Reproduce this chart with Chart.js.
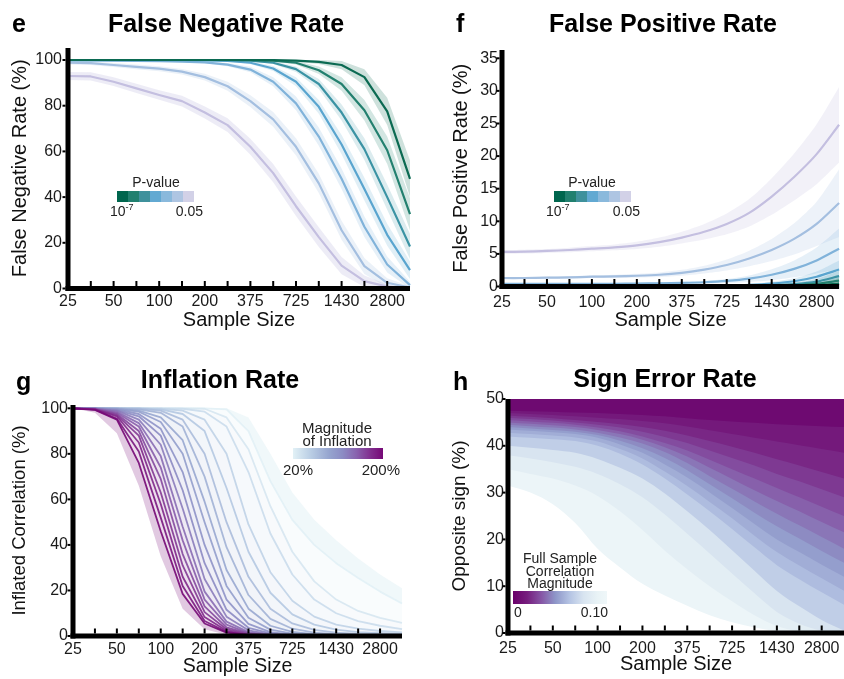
<!DOCTYPE html>
<html><head><meta charset="utf-8">
<title>Error rates vs sample size</title>
<script src="https://cdn.jsdelivr.net/npm/chart.js@4.4.1/dist/chart.umd.min.js"></script>
<style>
html,body{margin:0;padding:0;background:#fff;}
body{width:844px;height:679px;overflow:hidden;position:relative;font-family:"Liberation Sans",Arial,Helvetica,sans-serif;}
canvas{position:absolute;}
.t{position:absolute;font-weight:bold;font-size:25px;line-height:25px;white-space:nowrap;color:#000;}
.ct{width:400px;text-align:center;}
.lg{position:absolute;font-size:14px;line-height:14px;white-space:nowrap;color:#222;}
.l15{font-size:15px;line-height:15px;}
.sw{position:absolute;width:11px;height:11px;}
.bar{position:absolute;}
sup{font-size:9px;line-height:0;vertical-align:6px;}
</style></head>
<body>
<canvas id="cE" width="422" height="320" style="left:0;top:20px"></canvas>
<canvas id="cF" width="424" height="320" style="left:422px;top:20px"></canvas>
<canvas id="cG" width="422" height="294" style="left:0;top:385px"></canvas>
<canvas id="cH" width="428" height="294" style="left:422px;top:385px"></canvas>

<div class="t" style="left:12px;top:11px">e</div>
<div class="t ct" style="left:26px;top:11px">False Negative Rate</div>
<div class="t" style="left:456px;top:11px">f</div>
<div class="t ct" style="left:463px;top:11px">False Positive Rate</div>
<div class="t" style="left:16px;top:369px">g</div>
<div class="t ct" style="left:20px;top:367px">Inflation Rate</div>
<div class="t" style="left:453px;top:369px">h</div>
<div class="t ct" style="left:465px;top:366px">Sign Error Rate</div>

<div class="lg" style="left:106px;top:175px;width:100px;text-align:center">P-value</div>
<div class="lg" style="left:110px;top:204px">10<sup>-7</sup></div>
<div class="lg" style="left:163px;top:204px;width:40px;text-align:right">0.05</div>
<div id="swE"></div>

<div class="lg" style="left:542px;top:175px;width:100px;text-align:center">P-value</div>
<div class="lg" style="left:546px;top:204px">10<sup>-7</sup></div>
<div class="lg" style="left:600px;top:204px;width:40px;text-align:right">0.05</div>
<div id="swF"></div>

<div class="lg l15" style="left:287px;top:420px;width:100px;text-align:center">Magnitude</div>
<div class="lg l15" style="left:287px;top:433px;width:100px;text-align:center">of Inflation</div>
<div id="barG" class="bar" style="left:293px;top:448px;width:90px;height:11px"></div>
<div class="lg l15" style="left:283px;top:462px">20%</div>
<div class="lg l15" style="left:340px;top:462px;width:60px;text-align:right">200%</div>

<div class="lg" style="left:510px;top:551px;width:100px;text-align:center">Full Sample</div>
<div class="lg" style="left:510px;top:564px;width:100px;text-align:center">Correlation</div>
<div class="lg" style="left:510px;top:576px;width:100px;text-align:center">Magnitude</div>
<div id="barH" class="bar" style="left:513px;top:591px;width:94px;height:13px"></div>
<div class="lg" style="left:514px;top:605px">0</div>
<div class="lg" style="left:558px;top:605px;width:50px;text-align:right">0.10</div>

<script>
// ---------------- DATA ----------------
const sampleSizes = ['25','35','50','70','100','135','200','265','375','525','725','1000','1430','2000','2800','3600'];
const shownSizes = ['25','50','100','200','375','725','1430','2800'];
const pValues = ['1e-7','1e-6','1e-5','1e-4','0.001','0.01','0.05'];

// e: false negative rate (%)
const fnr_p1e7 = [100,100,100,100,100,100,100,100,100,99.9,99.7,99.2,97.8,92.5,77.5,48];
const fnr_p1e6 = [100,100,100,100,100,100,100,100,99.9,99.7,98.8,95.5,89.5,78,60.5,32.5];
const fnr_p1e5 = [100,100,100,100,100,100,100,99.9,99.7,98.8,96,89.5,77,61,40,18.4];
const fnr_p1e4 = [99.9,99.9,99.9,99.9,99.9,99.9,99.8,99.6,98.8,96.3,90.5,79.5,63,43.5,23.5,8];
const fnr_p1e3 = [99.8,99.8,99.7,99.6,99.5,99.3,99,98,95.8,90.5,81,66.5,48,27,10.5,1.5];
const fnr_p01  = [98.8,98.6,97.8,97,96.2,94.9,92.5,88.5,82,74,62,46,25.5,9.8,2.5,0.4];
const fnr_p05  = [93,92.8,90.5,87.6,84.7,82,77,71.5,62,50.5,36,22.5,10,3.2,0.8,0.1];
const fnrCi_p1e7 = [0.2,0.2,0.2,0.2,0.2,0.2,0.2,0.2,0.2,0.3,0.5,0.9,1.8,3.5,6,8];
const fnrCi_p1e6 = [0.2,0.2,0.2,0.2,0.2,0.2,0.2,0.2,0.2,0.4,0.8,1.6,3,4.5,6,7];
const fnrCi_p1e5 = [0.2,0.2,0.2,0.2,0.2,0.2,0.2,0.2,0.3,0.6,1.2,2.2,3.5,4.8,5.5,5.5];
const fnrCi_p1e4 = [0.2,0.2,0.2,0.2,0.2,0.2,0.2,0.3,0.6,1.1,2,3,4.2,5,4.8,3.8];
const fnrCi_p1e3 = [0.3,0.3,0.3,0.3,0.3,0.3,0.4,0.7,1.2,2,3,4,4.5,4.5,3.5,1.5];
const fnrCi_p01  = [0.8,0.8,0.9,1,1.1,1.2,1.5,2,2.6,3.2,3.8,4.2,4.2,3.5,2,0.6];
const fnrCi_p05  = [1.8,1.8,1.9,2,2.1,2.3,2.6,3,3.5,4,4.3,4.3,3.8,2.5,1,0.3];

// f: false positive rate (%)
const fpr_p1e7 = [0,0,0,0,0,0,0,0,0,0,0.01,0.02,0.05,0.1,0.2,0.45];
const fpr_p1e6 = [0,0,0,0,0,0,0,0,0,0.01,0.02,0.04,0.09,0.2,0.4,0.9];
const fpr_p1e5 = [0,0,0,0,0,0,0,0,0.01,0.02,0.04,0.08,0.17,0.35,0.75,1.6];
const fpr_p1e4 = [0.05,0.05,0.05,0.05,0.05,0.05,0.06,0.07,0.08,0.1,0.15,0.25,0.45,0.8,1.5,2.6];
const fpr_p1e3 = [0.4,0.4,0.4,0.4,0.4,0.42,0.45,0.5,0.55,0.65,0.85,1.2,1.8,2.7,4,5.8];
const fpr_p01  = [1.3,1.3,1.35,1.4,1.5,1.55,1.65,1.8,2.1,2.6,3.3,4.3,5.6,7.3,9.6,12.8];
const fpr_p05  = [5.3,5.35,5.45,5.6,5.8,6,6.3,6.8,7.5,8.4,9.6,11.3,13.8,16.8,20.3,24.8];
const fprCi_p1e7 = [0,0,0,0,0,0,0,0,0,0,0.01,0.01,0.03,0.05,0.1,0.25];
const fprCi_p1e6 = [0,0,0,0,0,0,0,0,0,0.01,0.01,0.02,0.05,0.1,0.2,0.45];
const fprCi_p1e5 = [0,0,0,0,0,0,0,0,0.01,0.01,0.02,0.05,0.1,0.2,0.4,0.8];
const fprCi_p1e4 = [0.02,0.02,0.02,0.02,0.02,0.02,0.02,0.03,0.04,0.05,0.08,0.14,0.25,0.45,0.8,1.4];
const fprCi_p1e3 = [0.08,0.08,0.08,0.08,0.08,0.09,0.1,0.12,0.15,0.2,0.3,0.5,0.85,1.3,2,3.1];
const fprCi_p01  = [0.15,0.15,0.15,0.2,0.2,0.25,0.3,0.35,0.45,0.6,0.85,1.2,1.7,2.4,3.4,5.2];
const fprCi_p05  = [0.3,0.3,0.3,0.35,0.4,0.45,0.55,0.7,0.9,1.2,1.6,2.1,2.8,3.6,4.6,5.8];

// g: inflated correlation (%) by magnitude of inflation
const inflLabels = ['200%','190%','180%','170%','160%','150%','140%','130%','120%','110%','100%','90%','80%','70%','60%','50%','40%','30%','20%'];
const infl200 = [100,99.3,95,76,46,18.5,5.5,1.5,0.4,0.1,0,0,0,0,0,0];
const infl190 = [100,99.4,95.5,81,52,22,6.6,1.8,0.4,0.1,0,0,0,0,0,0];
const infl180 = [100,99.5,96.5,85,58,26,8.3,2.3,0.5,0.1,0,0,0,0,0,0];
const infl170 = [100,99.5,97,88,63,31,10.5,3,0.7,0.2,0,0,0,0,0,0];
const infl160 = [100,99.6,97.5,90,69,36,13,3.8,1,0.2,0,0,0,0,0,0];
const infl150 = [100,99.7,98,92,74,42,16,5,1.3,0.3,0.1,0,0,0,0,0];
const infl140 = [100,99.8,98.5,93.5,79,48,19.5,6.3,1.7,0.5,0.1,0,0,0,0,0];
const infl130 = [100,99.8,99,95,84,56,25,8.5,2.5,0.7,0.2,0.1,0,0,0,0];
const infl120 = [100,99.9,99.2,96.5,88,64,32,11.5,3.6,1.1,0.3,0.1,0,0,0,0];
const infl110 = [100,100,99.5,97.5,91,72,40,16,5.3,1.7,0.6,0.2,0.1,0,0,0];
const infl100 = [100,100,99.7,98.5,94,80,50,22,8,2.8,1,0.4,0.2,0.1,0.1,0.1];
const infl90  = [100,100,99.8,99,96,86,59,29,12,4.5,1.8,0.8,0.4,0.3,0.2,0.2];
const infl80  = [100,100,100,99.5,98,92,70,39,18,7.5,3.2,1.5,0.8,0.5,0.4,0.3];
const infl70  = [100,100,100,99.8,99,95,80,50,26,12,5.5,2.7,1.5,0.9,0.7,0.5];
const infl60  = [100,100,100,100,99.5,97.5,90,65,37,19,9.5,5,2.8,1.7,1.2,0.9];
const infl50  = [100,100,100,100,99.8,99,95,80,49,28,15.5,8.5,5,3.2,2.2,1.6];
const infl40  = [100,100,100,100,100,99.8,98.5,92,72,45,27,16,10,6.5,4.5,3];
const infl30  = [100,100,100,100,100,100,99.8,96,82,57,37,24,16,11,8,5.8];
const infl20  = [100,100,100,100,100,100,100,99.5,90,68,51,40,32,25.5,19.5,14.3];
const inflBand200Lo = [100,98,89,66,35,12,3,0.6,0.1,0,0,0,0,0,0,0];
const inflBand20Hi  = [100,100,100,100,100,100,100,100,96,80,63,51,42,34,27,21];

// h: sign error rate (%) contour for each full-sample correlation magnitude
const rLevels = [0,0.01,0.015,0.02,0.025,0.03,0.035,0.04,0.045,0.05,0.055,0.06,0.07,0.08,0.09,0.10];
const sign_r000  = [50,50,50,50,50,50,50,50,50,50,50,50,50,50,50,50];
const sign_r010  = [47.5,47.4,47.3,47.1,47,46.8,46.6,46.3,45.9,45.5,45.2,44.9,44.6,44.4,44.2,44];
const sign_r015  = [47,46.8,46.6,46.3,46,45.7,45.3,44.8,44.1,43.3,42.5,41.7,40.9,40.1,39.3,38.5];
const sign_r020  = [46.5,46.2,45.9,45.5,45.1,44.6,44,43.2,42.2,41,39.8,38.5,37.1,35.8,34.4,33];
const sign_r025  = [46,45.7,45.4,45,44.5,43.9,43,41.9,40.6,39,37.4,35.8,34,32.4,30.7,29];
const sign_r030  = [45.5,45.2,44.9,44.5,43.9,43.1,42,40.6,39,37,35,33,31,29,27,25];
const sign_r035  = [45,44.7,44.4,44,43.4,42.5,41.3,39.7,37.7,35.3,32.9,30.5,28.2,26,23.7,21.5];
const sign_r040  = [44.5,44.2,43.9,43.5,42.8,41.8,40.5,38.7,36.3,33.5,30.8,28.1,25.5,23,20.5,18];
const sign_r045  = [44,43.7,43.4,43,42.3,41.1,39.5,37.4,34.8,31.8,28.8,25.7,22.8,20.2,17.5,15];
const sign_r050  = [43.5,43.2,42.9,42.5,41.7,40.3,38.5,36,33.2,30,26.7,23.3,20,17.3,14.6,12];
const sign_r055  = [42.8,42.5,42.2,41.8,40.9,39.3,37.3,34.5,31.4,28,24.5,20.8,17.3,14.4,11.7,9];
const sign_r060  = [42,41.7,41.4,41,40,38.3,36,33,29.6,26,22.2,18.3,14.5,11.5,8.7,6];
const sign_r070  = [40,39.6,39.1,38.5,37.2,35.3,33,29.8,26,22,17.7,13.3,9,5.7,2.8,0.5];
const sign_r080  = [38,37.3,36.5,35.5,34,31.8,29,25.3,21.2,17,12.7,8.5,4.5,2,0.5,0];
const sign_r090  = [35,34,33,31.5,29.3,26,22,17.6,13.6,10,6.8,3.8,1.5,0.4,0,0];
const sign_r100  = [31.5,30,27.5,23.5,18,14,10.5,8,5.8,3.8,2.3,1.2,0.4,0,0,0];

const yTicksE = [0,20,40,60,80,100];
const yTicksF = [0,5,10,15,20,25,30,35];
const yTicksG = [0,20,40,60,80,100];
const yTicksH = [0,10,20,30,40,50];

// ---------------- STYLE ----------------
const pLineColors   = ['#0b6a52','#23806f','#3b93a4','#5aa5cf','#81b3da','#a4bfe0','#c4bfe0'];
const pSwatchColors = ['#00664e','#21806f','#3f919c','#62a9d2','#8ab9dc','#aec5e2','#d2d1e7'];
const gStops = [[0,[226,241,246]],[0.2,[185,205,228]],[0.4,[150,165,207]],[0.55,[140,140,196]],[0.7,[137,100,175]],[0.85,[130,50,145]],[1,[118,8,118]]];
const hStops = [[0,[106,0,106]],[0.15,[118,30,126]],[0.3,[134,85,165]],[0.45,[142,150,200]],[0.6,[180,195,227]],[0.75,[216,228,240]],[0.9,[233,243,246]],[1,[239,247,249]]];

function cmap(stops, t) {
  t = Math.max(0, Math.min(1, t));
  for (let i = 1; i < stops.length; i++) {
    if (t <= stops[i][0]) {
      const [t0, c0] = stops[i-1], [t1, c1] = stops[i];
      const f = (t - t0) / (t1 - t0);
      return c0.map((v, k) => Math.round(v + (c1[k] - v) * f));
    }
  }
  return stops[stops.length-1][1];
}
const rgba = (c, a) => `rgba(${c[0]},${c[1]},${c[2]},${a})`;
const hex2rgb = h => [parseInt(h.slice(1,3),16), parseInt(h.slice(3,5),16), parseInt(h.slice(5,7),16)];

// legends
function swatches(id, x0, y0) {
  const el = document.getElementById(id);
  pSwatchColors.forEach((c, i) => {
    const d = document.createElement('div');
    d.className = 'sw';
    d.style.left = (x0 + 11 * i) + 'px';
    d.style.top = y0 + 'px';
    d.style.background = c;
    el.appendChild(d);
  });
}
swatches('swE', 117, 191);
swatches('swF', 554, 191);
function grad(stops) {
  const parts = stops.map(s => `rgb(${s[1].join(',')}) ${s[0] * 100}%`);
  return `linear-gradient(to right, ${parts.join(', ')})`;
}
document.getElementById('barG').style.background = grad(gStops);
document.getElementById('barH').style.background = grad(hStops);

// ---------------- CHARTS ----------------
Chart.defaults.font.family = '"Liberation Sans", Arial, Helvetica, sans-serif';
Chart.defaults.color = '#1a1a1a';

const axisDecor = {
  id: 'axisDecor',
  afterDatasetsDraw(chart) {
    const {ctx, chartArea: a} = chart;
    const xs = chart.scales.x, ys = chart.scales.y;
    const w = 5;
    ctx.save();
    ctx.fillStyle = '#000';
    ctx.fillRect(a.left - w / 2, a.top, w, a.bottom - a.top + w / 2);
    ctx.fillRect(a.left - w / 2, a.bottom - w / 2, a.right - a.left + w / 2, w);
    for (let i = 1; i < xs.ticks.length - 1; i++) {
      const px = xs.getPixelForTick(i);
      ctx.fillRect(px - 1, a.bottom - w / 2 - 5, 2, 5);
    }
    ys.ticks.forEach((t, i) => {
      const py = ys.getPixelForTick(i);
      ctx.fillRect(a.left - w / 2 - 3, py - 1, 3, 2);
    });
    ctx.restore();
  }
};

function makeOptions(c) {
  return {
    responsive: false, animation: false, devicePixelRatio: 1, events: [],
    layout: {padding: c.padding},
    elements: {point: {radius: 0}, line: {tension: c.tension || 0, borderJoinStyle: 'round'}},
    plugins: {legend: {display: false}, tooltip: {enabled: false},
              filler: {drawTime: 'beforeDatasetsDraw', propagate: false}},
    scales: {
      x: {type: 'category', offset: false,
          grid: {display: false, drawTicks: false}, border: {display: false},
          ticks: {autoSkip: false, maxRotation: 0, minRotation: 0, padding: c.xTickPad,
                  font: {size: 16}, color: '#1a1a1a',
                  callback: (v, i) => (i % 2 === 0 ? shownSizes[i / 2] : '')},
          title: {display: true, text: 'Sample Size', font: {size: c.xTitleSize || 20}, color: '#111',
                  padding: {top: 0, bottom: c.xTitlePad}},
          afterFit: s => { s.height = c.xHeight; }},
      y: {type: 'linear', min: 0, max: c.yMax,
          grid: {display: false, drawTicks: false}, border: {display: false},
          afterBuildTicks: s => { s.ticks = c.yTicks.map(v => ({value: v})); },
          ticks: {padding: c.yTickPad, font: {size: 16}, color: '#1a1a1a'},
          title: {display: true, text: c.yTitle, font: {size: c.yTitleSize || 20}, color: '#111',
                  padding: {top: c.yTitlePad, bottom: 0}},
          afterFit: s => { s.width = c.yWidth; }}
    }
  };
}

function pDatasets(series, cis, maxV, bandAlpha) {
  const ds = [];
  series.forEach((s, k) => ds.push({label: 'p<' + pValues[k], data: s, borderColor: pLineColors[k],
    borderWidth: 2.2, fill: false, order: k}));
  series.forEach((s, k) => {
    const lo = s.map((v, i) => Math.max(0, v - cis[k][i]));
    const hi = s.map((v, i) => Math.min(maxV, v + cis[k][i]));
    const loIdx = ds.length;
    ds.push({label: 'lo ' + pValues[k], data: lo, borderWidth: 0, fill: false, order: 20 + k});
    ds.push({label: 'hi ' + pValues[k], data: hi, borderWidth: 0, fill: loIdx,
             backgroundColor: rgba(hex2rgb(pLineColors[k]), bandAlpha[k]), order: 20 + k});
  });
  return ds;
}

// e
new Chart(document.getElementById('cE'), {
  type: 'line',
  data: {labels: sampleSizes,
         datasets: pDatasets([fnr_p1e7, fnr_p1e6, fnr_p1e5, fnr_p1e4, fnr_p1e3, fnr_p01, fnr_p05],
                             [fnrCi_p1e7, fnrCi_p1e6, fnrCi_p1e5, fnrCi_p1e4, fnrCi_p1e3, fnrCi_p01, fnrCi_p05],
                             100, [0.2,0.2,0.18,0.18,0.2,0.22,0.3])},
  options: makeOptions({padding: {top: 28, right: 12, left: 0, bottom: 0}, yMax: 105.25, yTicks: yTicksE,
    yTitle: 'False Negative Rate (%)', yTitlePad: 8, yTickPad: 6, yWidth: 68, xHeight: 51.5,
    xTickPad: 3.4, xTitlePad: 7.3}),
  plugins: [axisDecor]
});

// f
new Chart(document.getElementById('cF'), {
  type: 'line',
  data: {labels: sampleSizes,
         datasets: pDatasets([fpr_p1e7, fpr_p1e6, fpr_p1e5, fpr_p1e4, fpr_p1e3, fpr_p01, fpr_p05],
                             [fprCi_p1e7, fprCi_p1e6, fprCi_p1e5, fprCi_p1e4, fprCi_p1e3, fprCi_p01, fprCi_p05],
                             100, [0.25,0.25,0.22,0.2,0.2,0.2,0.22])},
  options: makeOptions({padding: {top: 30, right: 1, left: 0, bottom: 0}, yMax: 36.27, yTicks: yTicksF,
    yTitle: 'False Positive Rate (%)', yTitlePad: 27, yTickPad: 4, yWidth: 80, xHeight: 53.5,
    xTickPad: 6.9, xTitlePad: 7.3, tension: 0.25}),
  plugins: [axisDecor]
});

// g
const inflSeries = [infl200, infl190, infl180, infl170, infl160, infl150, infl140, infl130, infl120, infl110,
                    infl100, infl90, infl80, infl70, infl60, infl50, infl40, infl30, infl20];
const gDatasets = inflSeries.map((d, k) => {
  const col = cmap(gStops, 1 - k / (inflSeries.length - 1));
  return {label: inflLabels[k], data: d, borderColor: rgba(col, 0.9), borderWidth: 1.8,
          backgroundColor: rgba(col, 0.14), fill: k < inflSeries.length - 1 ? '+1' : false, order: k};
});
gDatasets.push({label: '200% band', data: inflBand200Lo, borderWidth: 0,
                backgroundColor: rgba(cmap(gStops, 1), 0.22), fill: 0, order: 40});
gDatasets.push({label: '20% band', data: inflBand20Hi, borderWidth: 0,
                backgroundColor: rgba(cmap(gStops, 0), 0.5), fill: inflSeries.length - 1, order: 41});
new Chart(document.getElementById('cG'), {
  type: 'line',
  data: {labels: sampleSizes, datasets: gDatasets},
  options: makeOptions({padding: {top: 20, right: 20, left: 0, bottom: 0}, yMax: 101.45, yTicks: yTicksG,
    yTitle: 'Inflated Correlation (%)', yTitleSize: 18.5, yTitlePad: 8.9, yTickPad: 5, yWidth: 73, xHeight: 43,
    xTickPad: 4.4, xTitlePad: 0.3, xTitleSize: 19.5}),
  plugins: [axisDecor]
});

// h
const signCurves = [sign_r000, sign_r010, sign_r015, sign_r020, sign_r025, sign_r030, sign_r035, sign_r040,
                    sign_r045, sign_r050, sign_r055, sign_r060, sign_r070, sign_r080, sign_r090, sign_r100];
const hDatasets = signCurves.map((d, j) => {
  const last = j === signCurves.length - 1;
  const rMid = last ? 0 : (rLevels[j] + rLevels[j + 1]) / 2;
  return {
    label: 'r=' + rLevels[j], data: d, borderWidth: 0, borderColor: 'rgba(0,0,0,0)',
    backgroundColor: last ? '#ffffff' : rgba(cmap(hStops, rMid / 0.10), 1),
    fill: 'origin', order: 100 - j, cubicInterpolationMode: 'monotone'
  };
});
new Chart(document.getElementById('cH'), {
  type: 'line',
  data: {labels: sampleSizes, datasets: hDatasets},
  options: makeOptions({padding: {top: 14, right: 3, left: 0, bottom: 0}, yMax: 50, yTicks: yTicksH,
    yTitle: 'Opposite sign (%)', yTitleSize: 19, yTitlePad: 26, yTickPad: 4, yWidth: 86, xHeight: 46,
    xTickPad: 5.9, xTitlePad: 2.5}),
  plugins: [axisDecor]
});
</script>
</body></html>
